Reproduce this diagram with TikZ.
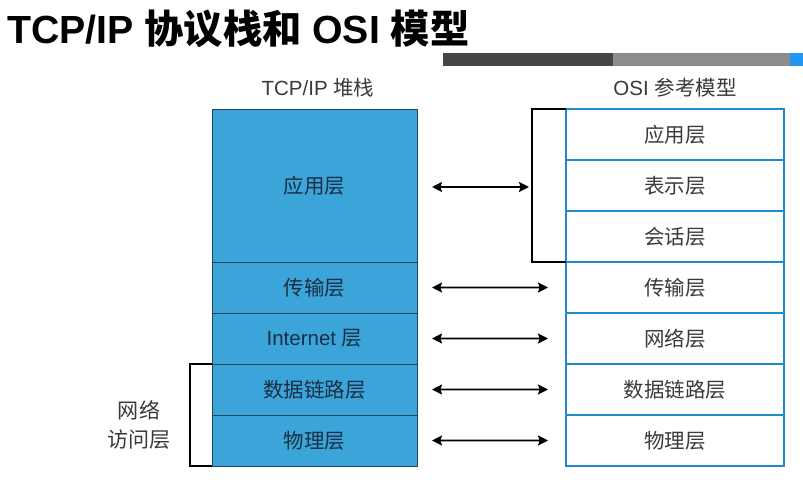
\documentclass[tikz,border=0pt]{standalone}
\usepackage{fontspec}
\setmainfont{Liberation Sans}
\newfontfamily\cjk{Noto Sans CJK SC}
\usepackage{tikz}
\usetikzlibrary{arrows.meta, positioning}
\definecolor{tcpFill}{HTML}{3BA4D8}
\definecolor{tcpLine}{HTML}{24435E}
\definecolor{tcpText}{HTML}{1A2E44}
\definecolor{osiLine}{HTML}{1F8BCB}
\definecolor{osiText}{HTML}{3A3A3A}
\definecolor{barDark}{HTML}{454545}
\definecolor{barGray}{HTML}{8C8C8C}
\definecolor{barBlue}{HTML}{2196F3}

\begin{document}
\begin{tikzpicture}[x=0.03cm, y=-0.03cm,
    every node/.style={font=\fontsize{17.5}{21}\selectfont},
    tcpbox/.style={draw=tcpLine, line width=0.8pt, fill=tcpFill, text=tcpText,
      minimum width=6.15cm, minimum height=1.53cm, inner sep=0pt, outer sep=0pt},
    osibox/.style={draw=osiLine, line width=1.5pt, fill=white, text=osiText,
      minimum width=6.54cm, minimum height=1.53cm, inner sep=0pt, outer sep=0pt},
    dblarrow/.style={{Stealth[length=3mm, width=3mm, inset=0.5mm]}-{Stealth[length=3mm, width=3mm, inset=0.5mm]},
      line width=1.6pt, shorten <=0.45cm, shorten >=0.54cm},
    bracketline/.style={line width=1.5pt, black}]
    \fill[white] (0,0) rectangle (803,482);
    \useasboundingbox (0,0) rectangle (803,482);
    % title and top bar
    \node[anchor=west, font=\fontsize{33.5}{40}\selectfont\bfseries] (title) at (3,29)
      {TCP/IP {\cjk\bfseries 协议栈和} OSI {\cjk\bfseries 模型}};
    \fill[barDark] (443,53) rectangle (613,66);
    \fill[barGray] (613,53) rectangle (790,66);
    \fill[barBlue] (790,53) rectangle (803,66);
    % headings
    \node[text=osiText] (tcphead) at (318,88) {TCP/IP {\cjk 堆栈}};
    \node[text=osiText] (osihead) at (675,88) {OSI {\cjk 参考模型}};
    % tcp/ip stack
    \node[tcpbox, minimum height=4.59cm] (tcpapp) at (314.5,185.5) {\cjk 应用层};
    \node[tcpbox, below=0pt of tcpapp] (tcptrans) {\cjk 传输层};
    \node[tcpbox, below=0pt of tcptrans] (tcpinet) {Internet {\cjk 层}};
    \node[tcpbox, below=0pt of tcpinet] (tcpdl) {\cjk 数据链路层};
    \node[tcpbox, below=0pt of tcpdl] (tcpphy) {\cjk 物理层};
    % osi stack
    \foreach \t/\n [count=\i from 0] in {应用层/osiapp, 表示层/osipres, 会话层/osisess,
      传输层/ositrans, 网络层/osinet, 数据链路层/osidl, 物理层/osiphy}
      \node[osibox] (\n) at (675,134.5+\i*51) {{\cjk \t}};
    % brackets
    \draw[bracketline] (osiapp.north west) -- ++(-34,0) |- (osisess.south west);
    \draw[bracketline] (tcpdl.north west) -- ++(-22,0) |- (tcpphy.south west);
    \node[text=osiText, align=center, font=\fontsize{18}{25}\selectfont\cjk] (netaccess) at (139,425)
      {网络\\访问层};
    % arrows
    \draw[dblarrow, shorten >=1.11cm, transform canvas={yshift=-0.045cm}] (tcpapp.east) -- (osipres.west);
    \foreach \a/\b in {tcptrans/ositrans, tcpinet/osinet, tcpdl/osidl, tcpphy/osiphy}
      \draw[dblarrow] (\a.east) -- (\b.west);
  \end{tikzpicture}
\end{document}
